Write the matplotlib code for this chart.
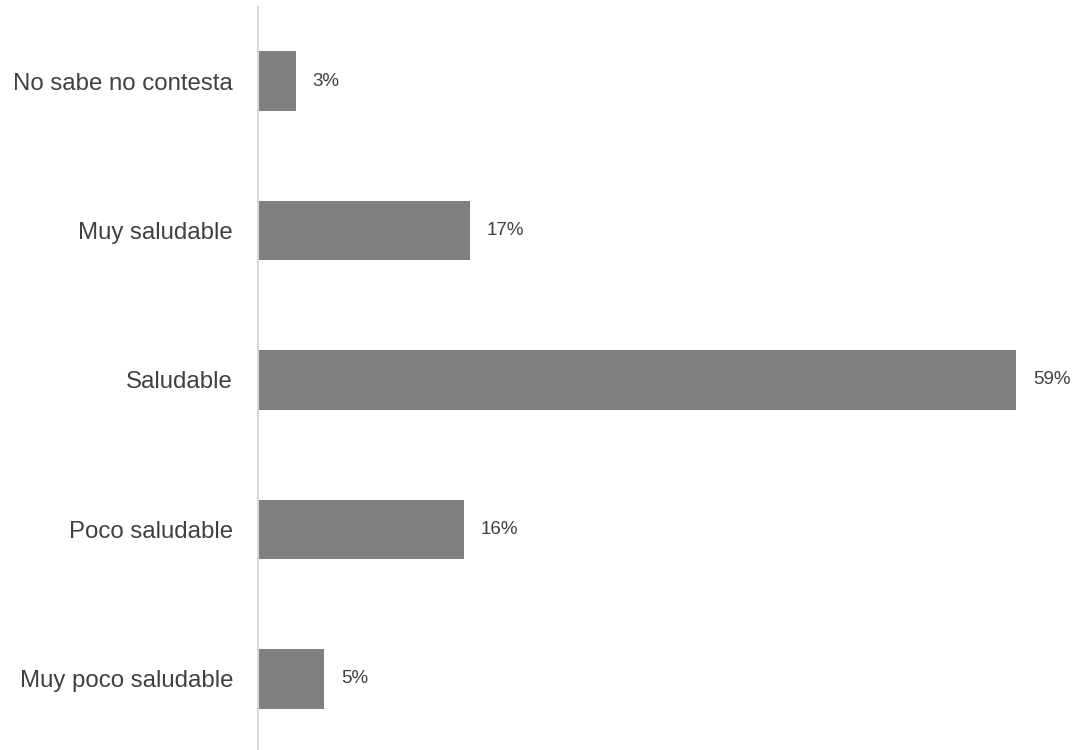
import matplotlib.pyplot as plt

plt.rcParams['font.family'] = ['Liberation Sans', 'DejaVu Sans']

categories = ['No sabe no contesta', 'Muy saludable', 'Saludable',
              'Poco saludable', 'Muy poco saludable']
values = [2.95, 16.6, 59.4, 16.1, 5.2]

fig = plt.figure(figsize=(10.73, 7.5), dpi=100)
ax = fig.add_axes([258 / 1073, 0, 766 / 1073, 743 / 750])

pos = range(len(categories))
bars = ax.barh(pos, values, height=0.4, color='#7f7f7f')

for y, v in zip(pos, values):
    ax.annotate(f'{v:.0f}%', (v, y), xytext=(12, 0), textcoords='offset points',
                va='center', ha='left', fontsize=13.5, color='#404040',
                annotation_clip=False)

ax.set_xlim(0, 60)
ax.set_ylim(4.475, -0.495)
ax.set_yticks(list(pos))
ax.set_yticklabels(categories, fontsize=17.3, color='#404040')
ax.tick_params(axis='y', length=0, pad=18)
ax.set_xticks([])

for side in ['top', 'right', 'bottom']:
    ax.spines[side].set_visible(False)
ax.spines['left'].set_color('#d9d9d9')
ax.spines['left'].set_linewidth(1.5)

fig.savefig('out.png', dpi=100)
